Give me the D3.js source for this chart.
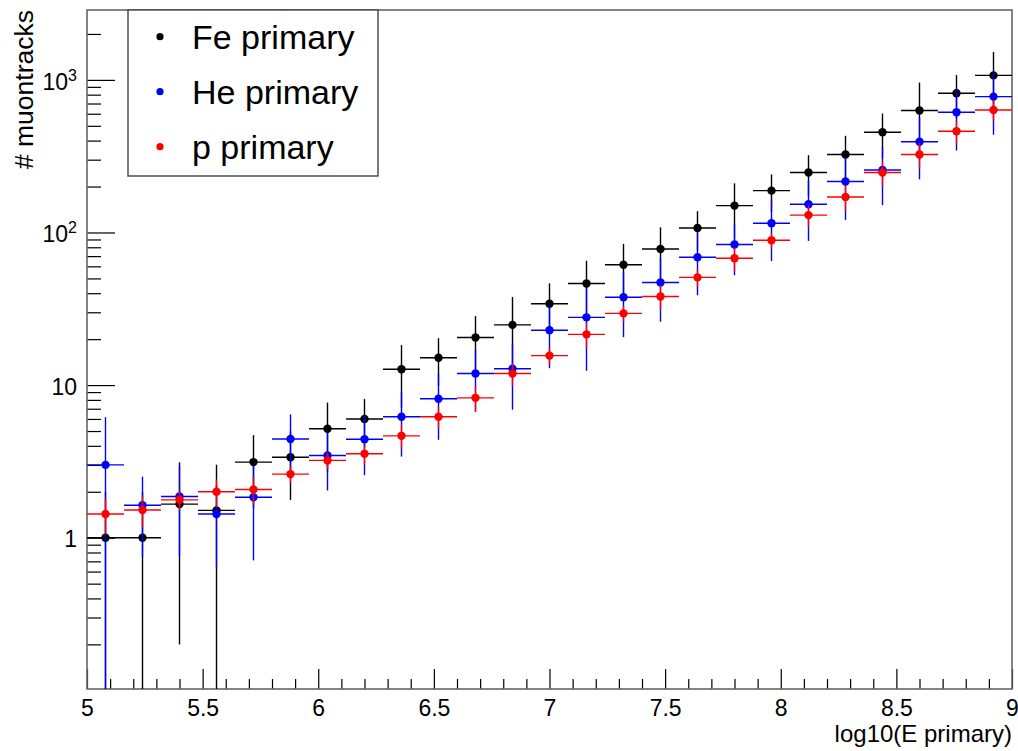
<!DOCTYPE html>
<html>
<head>
<meta charset="utf-8">
<script src="https://cdn.jsdelivr.net/npm/d3@7"></script>
<style>
  body { margin: 0; background: #fff; }
  svg { display: block; font-family: "Liberation Sans", Arial, sans-serif; }
</style>
</head>
<body>
<svg id="chart" width="1018" height="751"></svg>
<script>
// bin centres of log10(E primary), bin width 0.16
var binCenters = [5.08, 5.24, 5.40, 5.56, 5.72, 5.88, 6.04, 6.20, 6.36, 6.52, 6.68, 6.84, 7.00,
                  7.16, 7.32, 7.48, 7.64, 7.80, 7.96, 8.12, 8.28, 8.44, 8.60, 8.76, 8.92];
var halfBin = 0.08;

var feValues = [1.0, 1.0, 1.66, 1.51, 3.13, 3.37, 5.18, 6.0, 12.7, 15.1, 20.5, 24.8, 34.1,
                46.3, 61.5, 78, 107, 150, 188, 247, 324, 454, 630, 817, 1070];
var feErrors = [1.0, 1.0, 1.46, 1.5, 1.57, 1.6, 2.5, 2.1, 5.6, 5.2, 7.8, 13, 12.3,
                19, 22.7, 30, 31, 60, 52, 74, 106, 148, 330, 258, 455];

var heValues = [3.0, 1.63, 1.86, 1.43, 1.84, 4.43, 3.46, 4.42, 6.2, 8.13, 11.9, 12.8, 22.9,
                27.8, 37.6, 47, 68.8, 83.5, 115, 153, 216, 257, 393, 614, 777];
var heErrors = [3.15, 0.88, 1.1, 0.79, 1.13, 2.0, 1.42, 1.85, 2.8, 3.75, 5.2, 5.9, 10,
                15.4, 17, 21, 30, 31, 50, 65, 95, 106, 170, 270, 340];

var pValues = [1.43, 1.52, 1.77, 2.0, 2.07, 2.61, 3.21, 3.55, 4.65, 6.2, 8.25, 11.9, 15.6,
               21.5, 29.5, 38.1, 50.8, 67.8, 89, 130, 171, 247, 324, 461, 635];
var pErrors = [0.38, 0.35, 0.25, 0.41, 0.42, 0.33, 0.4, 0.5, 0.85, 1.0, 1.6, 2.0, 2.1,
               4, 3.5, 7, 6.6, 12, 10, 21, 32, 45, 61, 80, 100];

var xMajorTicks = [5, 5.5, 6, 6.5, 7, 7.5, 8, 8.5, 9];
var xMinorTicks = [5.1, 5.2, 5.3, 5.4, 5.6, 5.7, 5.8, 5.9, 6.1, 6.2, 6.3, 6.4, 6.6, 6.7, 6.8, 6.9,
                   7.1, 7.2, 7.3, 7.4, 7.6, 7.7, 7.8, 7.9, 8.1, 8.2, 8.3, 8.4, 8.6, 8.7, 8.8, 8.9];
var yMajorTicks = [1, 10, 100, 1000];
var yMinorTicks = [0.2, 0.3, 0.4, 0.5, 0.6, 0.7, 0.8, 0.9, 2, 3, 4, 5, 6, 7, 8, 9,
                   20, 30, 40, 50, 60, 70, 80, 90, 200, 300, 400, 500, 600, 700, 800, 900, 2000];

var seriesNames = ["Fe primary", "He primary", "p primary"];
var seriesColors = ["#000000", "#0000ff", "#ff0000"];

var frame = { left: 87, right: 1012, top: 10, bottom: 689 };
var yMin = 0.102, yMax = 2870;

var svg = d3.select("#chart");
var x = d3.scaleLinear().domain([5, 9]).range([frame.left, frame.right]);
var y = d3.scaleLog().domain([yMin, yMax]).range([frame.bottom, frame.top]);

svg.append("rect").attr("width", 1018).attr("height", 751).attr("fill", "#fff");

// axes (ticks point inside the frame, ROOT style)
var xAxisG = svg.append("g").attr("transform", "translate(0," + frame.bottom + ")");
xAxisG.append("g")
  .call(d3.axisBottom(x).tickValues(xMinorTicks).tickSizeInner(-10).tickSizeOuter(0).tickFormat(""));
xAxisG.append("g")
  .call(d3.axisBottom(x).tickValues(xMajorTicks).tickSizeInner(-20).tickSizeOuter(0).tickPadding(11)
    .tickFormat(d3.format("")));
xAxisG.selectAll("path.domain").remove();
xAxisG.selectAll("text").attr("font-size", 23).attr("fill", "#000")
  .style("font-family", "'Liberation Sans', Arial, sans-serif");

var yAxisG = svg.append("g").attr("transform", "translate(" + frame.left + ",0)");
yAxisG.append("g")
  .call(d3.axisLeft(y).tickValues(yMinorTicks).tickSizeInner(-14).tickSizeOuter(0).tickFormat(""));
yAxisG.append("g").attr("class", "ymajor")
  .call(d3.axisLeft(y).tickValues(yMajorTicks).tickSizeInner(-28).tickSizeOuter(0).tickPadding(10)
    .tickFormat(d => d >= 100 ? "10" : String(d)));
yAxisG.selectAll("path.domain").remove();
yAxisG.selectAll(".ymajor text")
  .attr("font-size", 23).attr("fill", "#000").attr("dy", "0.4em")
  .style("font-family", "'Liberation Sans', Arial, sans-serif")
  .each(function(d) {
    if (d >= 100) {
      // superscript exponent, e.g. 10^2
      d3.select(this).append("tspan").attr("dy", "-0.55em").attr("font-size", 16)
        .text(Math.round(Math.log10(d)));
    }
  });
svg.selectAll(".tick line").attr("stroke", "#000").attr("stroke-width", 1.2);

// frame
svg.append("rect")
  .attr("x", frame.left).attr("y", frame.top)
  .attr("width", frame.right - frame.left).attr("height", frame.bottom - frame.top)
  .attr("fill", "none").attr("stroke", "#666").attr("stroke-width", 1.6);

// axis titles
svg.append("text")
  .attr("x", frame.right).attr("y", 742)
  .attr("text-anchor", "end").attr("font-size", 24)
  .text("log10(E primary)");
svg.append("text")
  .attr("transform", "translate(33," + frame.top + ") rotate(-90)")
  .attr("text-anchor", "end").attr("font-size", 26.5)
  .text("# muontracks");

// data points with error bars
var plot = svg.append("g");
plot.append("clipPath").attr("id", "clip").append("rect")
  .attr("x", frame.left).attr("y", frame.top)
  .attr("width", frame.right - frame.left).attr("height", frame.bottom - frame.top);
var allValues = [feValues, heValues, pValues];
var allErrors = [feErrors, heErrors, pErrors];

allValues.forEach(function(vals, si) {
  var data = vals.map((v, i) => ({ x: binCenters[i], v: v, e: allErrors[si][i] }));
  var g = plot.append("g").attr("clip-path", "url(#clip)");
  var col = seriesColors[si];
  g.selectAll(".hbar").data(data).enter().append("line")
    .attr("x1", d => x(d.x - halfBin)).attr("x2", d => x(d.x + halfBin))
    .attr("y1", d => y(d.v)).attr("y2", d => y(d.v))
    .attr("stroke", col).attr("stroke-width", 1.4);
  g.selectAll(".vbar").data(data).enter().append("line")
    .attr("x1", d => x(d.x)).attr("x2", d => x(d.x))
    .attr("y1", d => y(d.v + d.e))
    .attr("y2", d => d.v - d.e > yMin ? y(d.v - d.e) : frame.bottom)
    .attr("stroke", col).attr("stroke-width", 1.4);
  g.selectAll("circle").data(data).enter().append("circle")
    .attr("cx", d => x(d.x)).attr("cy", d => y(d.v)).attr("r", 4.2)
    .attr("fill", col);
});

// legend
var legend = svg.append("g");
legend.append("rect")
  .attr("x", 128).attr("y", frame.top).attr("width", 250).attr("height", 166)
  .attr("fill", "#fff").attr("stroke", "#444").attr("stroke-width", 1.4);
var legendY = [36.7, 91.7, 146.7];
seriesNames.forEach(function(name, i) {
  legend.append("circle").attr("cx", 160).attr("cy", legendY[i]).attr("r", 3.6)
    .attr("fill", seriesColors[i]);
  legend.append("text").attr("x", 192).attr("y", legendY[i] + 12.2)
    .attr("font-size", 34).attr("fill", "#000").text(name);
});
</script>
</body>
</html>
